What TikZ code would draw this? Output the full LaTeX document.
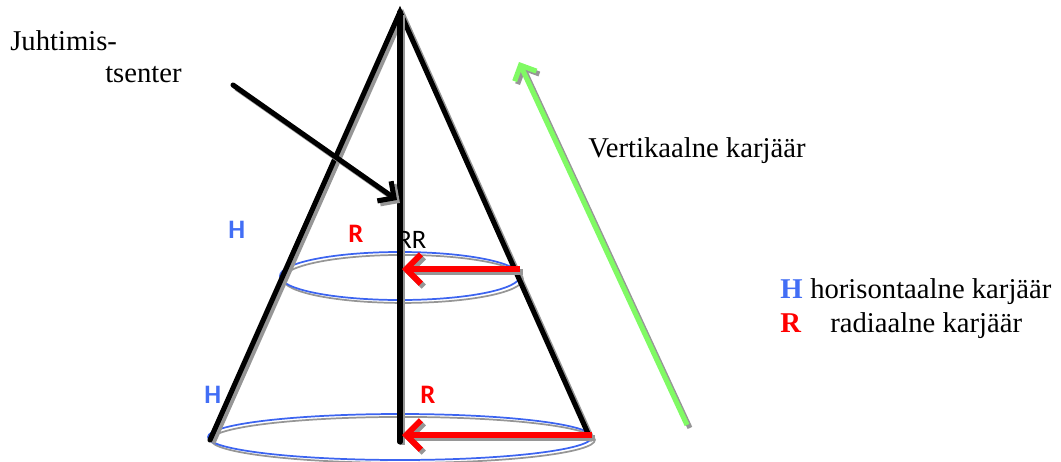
\documentclass[tikz,border=0pt]{standalone}
\usepackage{fontspec}
\setmainfont{Liberation Serif}
\newfontfamily\carl{Carlito}
\usetikzlibrary{arrows.meta}
\definecolor{hblue}{RGB}{66,110,245}
\definecolor{eblue}{RGB}{60,100,240}
\definecolor{vgreen}{RGB}{128,250,100}
\definecolor{shd}{RGB}{150,150,150}
\begin{document}
\begin{tikzpicture}[x=0.75pt,y=-0.75pt,
  shadowed/.style={preaction={draw=shd,line width=#1,transform canvas={xshift=2.2pt,yshift=-2.2pt}}},
  coneline/.style={shadowed=3.8pt,line width=3.8pt,black,line cap=round},
  ell/.style={shadowed=1.3pt,draw=eblue,line width=1.3pt},
  rarrow/.style={shadowed=4.5pt,line width=4.5pt,red,-{Straight Barb[length=11pt,width=22pt,line width=4.5pt]}},
  karrow/.style={shadowed=3.8pt,line width=3.8pt,black,line cap=round,-{Straight Barb[length=9pt,width=18pt,line width=3.8pt]}},
  garrow/.style={shadowed=3.8pt,line width=3.8pt,vgreen,-{Straight Barb[length=9pt,width=18pt,line width=3.8pt]}},
  txt/.style={font=\fontsize{21.5}{26}\selectfont,anchor=base west,inner sep=0pt},
  ctxt/.style={font=\carl\bfseries\fontsize{20}{24}\selectfont,anchor=base west,inner sep=0pt},
  ctxtn/.style={font=\carl\fontsize{20}{24}\selectfont,anchor=base west,inner sep=0pt}]
\useasboundingbox (0,0) rectangle (1061,461);
% key points
\coordinate (apex) at (400,12);
\coordinate (bl) at (210,440);
\coordinate (br) at (590,438);
\coordinate (axb) at (400,442);
\coordinate (c1) at (400,276);
\coordinate (c2) at (400,437);
% ellipses
\draw[ell] (c1) ellipse [x radius=120,y radius=24];
\draw[ell] (c2) ellipse [x radius=192,y radius=23];
% cone
\draw[coneline] (bl) -- (apex) -- (br);
\draw[coneline] (apex) -- (axb);
% red arrows
\coordinate (r1s) at (520,269);
\coordinate (r1e) at (402,269);
\coordinate (r2s) at (592,435);
\coordinate (r2e) at (402,435);
\draw[rarrow] (r1s) -- (r1e);
\draw[rarrow] (r2s) -- (r2e);
% black arrow
\coordinate (ks) at (233,85);
\coordinate (ke) at (397,200);
\draw[karrow] (ks) -- (ke);
% green arrow
\coordinate (gs) at (687,425);
\coordinate (ge) at (519,62);
\draw[garrow] (gs) -- (ge);
% texts
\node[txt] (j1) at (10,50) {Juhtimis-};
\node[txt] (j2) at (105,82) {tsenter};
\node[txt] (vk) at (588,157) {Vertikaalne karjäär};
\node[txt,font=\bfseries\fontsize{21.5}{26}\selectfont,text=hblue] (lh) at (780,298) {H};
\node[txt] (lht) at (810,298) {horisontaalne karjäär};
\node[txt,font=\bfseries\fontsize{21.5}{26}\selectfont,text=red] (lr) at (780,332) {R};
\node[txt] (lrt) at (830,332) {radiaalne karjäär};
\node[ctxt,text=hblue] (h1) at (228,238) {H};
\node[ctxt,text=red] (r1) at (348,242) {R};
\node[ctxtn] (rr) at (397,248) {RR};
\node[ctxt,text=hblue] (h2) at (204,403) {H};
\node[ctxt,text=red] (r2) at (420,403) {R};
\end{tikzpicture}
\end{document}
